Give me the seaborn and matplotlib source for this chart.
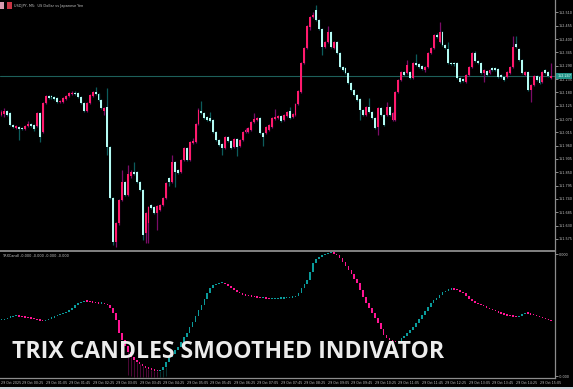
import matplotlib
matplotlib.use("Agg")
import matplotlib.pyplot as plt
import matplotlib.patches as mpatches
import matplotlib.transforms as mtransforms
from matplotlib.ticker import FormatStrFormatter, FixedFormatter, FixedLocator
import numpy as np
import pandas as pd
import seaborn as sns

# ---------------- data ----------------
symbol_title = "USDJPY, M5:  US Dollar vs Japanese Yen"
indicator_title = "TRXCandl -0.000 -0.000 -0.000 -0.000"
overlay_title = "TRIX CANDLES SMOOTHED INDIVATOR"

opens = [
    152.087, 152.091, 152.103, 152.095, 152.045, 152.033, 152.037, 152.033, 152.029, 152.041,
    152.049, 152.045, 152.041, 152.095, 152.016, 152.136, 152.165, 152.165, 152.161, 152.157,
    152.140, 152.140, 152.153, 152.165, 152.173, 152.177, 152.177, 152.161, 152.136, 152.103,
    152.136, 152.165, 152.181, 152.173, 152.148, 152.103, 152.120, 151.954, 151.744, 151.563,
    151.641, 151.736, 151.810, 151.756, 151.835, 151.851, 151.851, 151.810, 151.777, 151.600,
    151.641, 151.715, 151.707, 151.682, 151.695, 151.715, 151.744, 151.827, 151.810, 151.893,
    151.860, 151.851, 151.901, 151.950, 151.901, 151.971, 151.975, 152.049, 152.103, 152.095,
    152.078, 152.074, 152.066, 152.016, 151.983, 151.967, 151.950, 151.996, 151.979, 151.954,
    151.988, 151.959, 151.983, 152.016, 152.016, 152.025, 152.058, 152.066, 152.074, 152.012,
    152.012, 152.025, 152.037, 152.070, 152.074, 152.082, 152.066, 152.082, 152.103, 152.078,
    152.087, 152.132, 152.181, 152.301, 152.363, 152.450, 152.491, 152.520, 152.478, 152.441,
    152.367, 152.388, 152.429, 152.363, 152.388, 152.342, 152.285, 152.280, 152.260, 152.219,
    152.190, 152.169, 152.153, 152.107, 152.087, 152.120, 152.099, 152.074, 152.037, 152.115,
    152.087, 152.087, 152.120, 152.066, 152.066, 152.181, 152.231, 152.264, 152.260, 152.264,
    152.239, 152.301, 152.297, 152.289, 152.272, 152.285, 152.342, 152.363, 152.417, 152.388,
    152.429, 152.375, 152.359, 152.301, 152.301, 152.301, 152.239, 152.235, 152.223, 152.252,
    152.285, 152.342, 152.309, 152.301, 152.260, 152.268, 152.260, 152.280, 152.280, 152.276,
    152.252, 152.243, 152.243, 152.260, 152.285, 152.379, 152.359, 152.313, 152.252, 152.264,
    152.190, 152.210, 152.247, 152.243, 152.223, 152.272, 152.264, 152.239,
]
highs = [
    152.107, 152.115, 152.107, 152.099, 152.049, 152.045, 152.041, 152.037, 152.045, 152.062,
    152.054, 152.049, 152.099, 152.099, 152.140, 152.169, 152.169, 152.169, 152.165, 152.161,
    152.148, 152.161, 152.169, 152.181, 152.186, 152.186, 152.181, 152.165, 152.140, 152.140,
    152.173, 152.186, 152.202, 152.177, 152.153, 152.120, 152.198, 151.959, 151.748, 151.645,
    151.740, 151.860, 151.814, 151.880, 151.860, 151.893, 151.855, 151.814, 151.781, 151.686,
    151.711, 151.719, 151.711, 151.715, 151.719, 151.748, 151.810, 151.831, 151.921, 151.897,
    151.864, 151.905, 151.954, 151.954, 151.979, 151.992, 152.054, 152.115, 152.144, 152.099,
    152.082, 152.099, 152.070, 152.021, 151.988, 151.971, 152.000, 152.000, 151.983, 151.992,
    151.992, 151.988, 152.021, 152.033, 152.037, 152.062, 152.095, 152.078, 152.078, 152.016,
    152.041, 152.049, 152.078, 152.111, 152.087, 152.087, 152.091, 152.103, 152.120, 152.095,
    152.136, 152.190, 152.305, 152.367, 152.458, 152.495, 152.511, 152.540, 152.483, 152.446,
    152.392, 152.454, 152.433, 152.392, 152.392, 152.346, 152.289, 152.285, 152.264, 152.223,
    152.194, 152.173, 152.157, 152.111, 152.124, 152.157, 152.103, 152.078, 152.120, 152.120,
    152.091, 152.140, 152.124, 152.099, 152.186, 152.235, 152.268, 152.268, 152.313, 152.268,
    152.305, 152.338, 152.301, 152.293, 152.289, 152.346, 152.367, 152.421, 152.425, 152.470,
    152.433, 152.379, 152.388, 152.305, 152.305, 152.305, 152.243, 152.239, 152.256, 152.289,
    152.346, 152.351, 152.313, 152.305, 152.276, 152.272, 152.276, 152.285, 152.285, 152.280,
    152.256, 152.247, 152.268, 152.289, 152.412, 152.412, 152.363, 152.318, 152.268, 152.268,
    152.214, 152.252, 152.252, 152.247, 152.268, 152.276, 152.268, 152.301,
]
lows = [
    152.082, 152.078, 152.082, 152.041, 152.033, 152.029, 151.983, 152.025, 152.025, 152.037,
    152.037, 152.021, 152.037, 151.975, 152.012, 152.132, 152.153, 152.153, 152.148, 152.136,
    152.136, 152.136, 152.148, 152.161, 152.169, 152.169, 152.157, 152.132, 152.099, 152.099,
    152.132, 152.161, 152.169, 152.144, 152.111, 152.087, 151.921, 151.740, 151.550, 151.542,
    151.633, 151.732, 151.752, 151.752, 151.827, 151.839, 151.806, 151.773, 151.571, 151.558,
    151.558, 151.699, 151.678, 151.612, 151.690, 151.711, 151.740, 151.794, 151.806, 151.789,
    151.843, 151.847, 151.897, 151.897, 151.897, 151.967, 151.971, 152.045, 152.091, 152.070,
    152.062, 152.058, 152.012, 151.979, 151.959, 151.921, 151.946, 151.975, 151.946, 151.950,
    151.917, 151.954, 151.979, 152.012, 152.012, 152.021, 152.054, 152.062, 152.008, 151.959,
    152.008, 152.021, 152.033, 152.066, 152.070, 152.058, 152.062, 152.078, 152.070, 152.074,
    152.082, 152.128, 152.177, 152.297, 152.359, 152.437, 152.487, 152.474, 152.437, 152.334,
    152.363, 152.384, 152.363, 152.359, 152.338, 152.280, 152.268, 152.256, 152.214, 152.186,
    152.165, 152.144, 152.066, 152.082, 152.082, 152.095, 152.070, 152.029, 152.004, 152.082,
    152.041, 152.082, 152.082, 152.062, 152.062, 152.177, 152.227, 152.247, 152.256, 152.235,
    152.235, 152.289, 152.280, 152.272, 152.264, 152.280, 152.338, 152.359, 152.404, 152.384,
    152.371, 152.359, 152.297, 152.293, 152.289, 152.235, 152.219, 152.223, 152.219, 152.247,
    152.280, 152.305, 152.297, 152.256, 152.223, 152.247, 152.256, 152.268, 152.268, 152.239,
    152.239, 152.227, 152.239, 152.256, 152.280, 152.363, 152.309, 152.256, 152.247, 152.186,
    152.140, 152.206, 152.227, 152.214, 152.219, 152.256, 152.243, 152.235,
]
closes = [
    152.099, 152.103, 152.087, 152.045, 152.037, 152.041, 152.029, 152.029, 152.041, 152.049,
    152.041, 152.029, 152.095, 151.996, 152.136, 152.165, 152.157, 152.161, 152.153, 152.140,
    152.144, 152.157, 152.165, 152.177, 152.177, 152.173, 152.161, 152.136, 152.103, 152.136,
    152.169, 152.181, 152.173, 152.148, 152.115, 152.115, 151.954, 151.744, 151.563, 151.641,
    151.736, 151.810, 151.756, 151.843, 151.851, 151.843, 151.810, 151.777, 151.591, 151.682,
    151.707, 151.703, 151.682, 151.711, 151.715, 151.744, 151.806, 151.810, 151.893, 151.851,
    151.847, 151.901, 151.950, 151.901, 151.975, 151.979, 152.049, 152.107, 152.095, 152.074,
    152.066, 152.062, 152.016, 151.983, 151.963, 151.950, 151.996, 151.979, 151.950, 151.988,
    151.954, 151.983, 152.016, 152.025, 152.033, 152.058, 152.070, 152.074, 152.012, 151.996,
    152.037, 152.045, 152.074, 152.078, 152.082, 152.062, 152.087, 152.099, 152.074, 152.091,
    152.132, 152.186, 152.301, 152.363, 152.454, 152.491, 152.499, 152.478, 152.441, 152.367,
    152.388, 152.429, 152.367, 152.388, 152.342, 152.285, 152.272, 152.260, 152.219, 152.190,
    152.169, 152.148, 152.107, 152.087, 152.120, 152.099, 152.074, 152.033, 152.115, 152.087,
    152.045, 152.120, 152.087, 152.095, 152.181, 152.231, 152.264, 152.252, 152.293, 152.239,
    152.301, 152.293, 152.285, 152.276, 152.285, 152.342, 152.363, 152.417, 152.408, 152.429,
    152.375, 152.363, 152.301, 152.297, 152.297, 152.239, 152.223, 152.227, 152.252, 152.285,
    152.342, 152.309, 152.301, 152.260, 152.272, 152.252, 152.272, 152.272, 152.272, 152.243,
    152.243, 152.231, 152.264, 152.285, 152.367, 152.367, 152.313, 152.260, 152.264, 152.190,
    152.210, 152.247, 152.231, 152.219, 152.264, 152.260, 152.247, 152.247,
]

# TRIX candle values, in units of 1e-5
trix_e5 = [
    -5, -4, -2.5, -2, -1, -1, -1.5, -2, -2.5, -3,
    -3.5, -4, -5, -5.5, -6, -5, -3.5, -2.5, -1, 0,
    1, 2, 3.5, 5, 7.5, 10, 12, 13, 14, 13.5,
    13, 12.5, 12, 11.5, 11.5, 11, 10, 7, 2, -5,
    -18, -25, -31, -37, -42, -45, -47, -49, -51, -52.5,
    -53.5, -54.5, -55.5, -56, -55, -52, -47, -42, -39, -35,
    -32, -27, -22, -18, -12, -7, -1, 5, 10, 16,
    22, 27, 30, 31, 32, 32, 31, 29, 27, 25,
    23.5, 22, 20.5, 19.5, 19, 18.5, 18, 17.5, 17, 17,
    16.5, 16, 16, 16, 16.5, 16.5, 17, 17, 17.5, 18,
    19, 22, 27, 31, 35, 43, 52, 56, 58, 60,
    61, 62, 62, 61.5, 60, 57, 53, 49, 45, 41,
    36, 32, 25, 18, 12, 7, 2, -3, -8, -14,
    -20, -23, -25, -26, -27, -26, -23, -21, -18, -15,
    -12, -8, -4, 0, 4, 8, 12, 15, 17, 20,
    23, 24.5, 25.5, 26, 25.5, 25, 23.5, 22, 19, 16,
    14, 12.5, 11, 10, 9, 7.5, 6, 5, 4, 2.5,
    1.5, 0.5, -0.5, -1, -1.5, -2, -0.5, 1, 2, 1.5,
    0.5, 0, -1, -2, -3, -4, -5, -6,
]
# long lower shadows of the TRIX candles near the trough
trix_wick_first = 43
trix_wick_low_e5 = [-60, -61, -62, -62, -62, -62, -62, -62, -62, -62, -62, -62, -62, -61]

bid_price = 152.247
price_ticks = [152.510, 152.455, 152.400, 152.345, 152.290, 152.235, 152.180, 152.125,
               152.070, 152.015, 151.960, 151.905, 151.850, 151.795, 151.740, 151.685,
               151.630, 151.575]
indicator_ticks_e5 = [61, -61]
indicator_tick_labels = ["0.000", "-0.000"]
time_tick_bars = [0, 7, 15, 23, 31, 39, 47, 55, 63, 71, 79, 87, 95, 103, 111, 119,
                  127, 135, 143, 151, 159, 167, 175, 183]
time_tick_labels = ["29 Oct 2025", "29 Oct 00:25", "29 Oct 01:05", "29 Oct 01:45",
                    "29 Oct 02:25", "29 Oct 03:05", "29 Oct 03:45", "29 Oct 04:25",
                    "29 Oct 05:05", "29 Oct 05:45", "29 Oct 06:25", "29 Oct 07:05",
                    "29 Oct 07:45", "29 Oct 08:25", "29 Oct 09:05", "29 Oct 09:45",
                    "29 Oct 10:25", "29 Oct 11:05", "29 Oct 11:45", "29 Oct 12:25",
                    "29 Oct 13:05", "29 Oct 13:45", "29 Oct 14:25", "29 Oct 15:05"]

# ---------------- style ----------------
PINK = "#ff1a6c"
CYAN = "#b4fbf3"
PINK_WICK = "#7c0c68"
CYAN_WICK = "#0c5c5c"
IND_TEAL = "#0a9c9c"
IND_PINK = "#ff1493"
AXIS_GREY = "#8c8c8c"
TEXT_GREY = "#c4c4c4"

sns.set_theme(style="dark", rc={
    "axes.facecolor": "black", "figure.facecolor": "black",
    "axes.grid": False, "text.color": TEXT_GREY,
    "xtick.color": TEXT_GREY, "ytick.color": TEXT_GREY,
})
plt.rcParams["font.family"] = ["DejaVu Sans"]

W, H = 573, 389
fig = plt.figure(figsize=(W / 100, H / 100), dpi=100, facecolor="black")
ax = fig.add_axes([0, 1 - 251 / H, 555 / W, 251 / H])
axi = fig.add_axes([0, 1 - 378 / H, 555 / W, 126 / H])

df = pd.DataFrame({"open": opens, "high": highs, "low": lows, "close": closes})
df["bar"] = np.arange(len(df))
up = (df["close"] >= df["open"]).to_numpy()

# candles
ax.vlines(df["bar"], df["low"], df["high"],
          colors=np.where(up, PINK_WICK, CYAN_WICK), linewidth=0.9, zorder=2)
body_h = np.maximum((df["close"] - df["open"]).abs(), 0.003)
ax.bar(df["bar"], body_h, bottom=np.minimum(df["open"], df["close"]), width=0.66,
       color=np.where(up, PINK, CYAN), linewidth=0, zorder=3)

ax.axhline(bid_price, color="#1d5f5a", linewidth=0.8, zorder=1)

xlim = (-0.51, 188.27)
ax.set_xlim(*xlim)
ax.set_ylim(151.5254, 152.561)

# indicator
tr = np.array(trix_e5) * 1e-5
prev = np.r_[tr[0], tr[:-1]]
rising = tr >= prev
ind_col = np.where(rising, IND_TEAL, IND_PINK)
wick_bars = np.arange(trix_wick_first, trix_wick_first + len(trix_wick_low_e5))
wick_top = np.minimum(tr[wick_bars], prev[wick_bars])
axi.vlines(wick_bars, np.array(trix_wick_low_e5) * 1e-5, wick_top,
           colors=np.where(rising[wick_bars], "#0b5a5a", "#8a1060"), linewidth=0.5,
           alpha=0.8, zorder=2)
axi.bar(df["bar"], np.maximum(np.abs(tr - prev), 1.3e-5), bottom=np.minimum(tr, prev),
        width=0.55, color=ind_col, linewidth=0, zorder=3)
axi.set_xlim(*xlim)
axi.set_ylim(-63e-5, 63e-5)

# axes decoration
for a in (ax, axi):
    for s in ("left", "top"):
        a.spines[s].set_visible(False)
    a.spines["right"].set_color(AXIS_GREY)
    a.spines["right"].set_linewidth(0.9)
ax.spines["bottom"].set_color(AXIS_GREY)
ax.spines["bottom"].set_linewidth(1.3)
axi.spines["bottom"].set_color(AXIS_GREY)
axi.spines["bottom"].set_linewidth(0.9)

ax.set_xticks([])
ax.yaxis.tick_right()
ax.yaxis.set_major_locator(FixedLocator(price_ticks))
ax.yaxis.set_major_formatter(FormatStrFormatter("%.3f"))
ax.tick_params(axis="y", labelsize=2.4, length=1.8, width=0.5, pad=0.8,
               colors=TEXT_GREY, direction="out")

axi.yaxis.tick_right()
axi.yaxis.set_major_locator(FixedLocator(np.array(indicator_ticks_e5) * 1e-5))
axi.yaxis.set_major_formatter(FixedFormatter(indicator_tick_labels))
axi.tick_params(axis="y", labelsize=2.4, length=1.8, width=0.5, pad=0.8, colors=TEXT_GREY)
axi.xaxis.set_major_locator(FixedLocator(time_tick_bars))
axi.xaxis.set_major_formatter(FixedFormatter(time_tick_labels))
for lbl in axi.get_xticklabels():
    lbl.set_ha("left")
axi.tick_params(axis="x", labelsize=2.3, length=1.5, width=0.5, pad=1.0, colors=TEXT_GREY)

# current price box
trans = mtransforms.blended_transform_factory(ax.transAxes, ax.transData)
ax.text(1.004, bid_price, f"{bid_price:.3f}", transform=trans, fontsize=2.4,
        color="#e8fffb", ha="left", va="center", clip_on=False, zorder=5,
        bbox=dict(boxstyle="square,pad=0.35", fc="#239488", ec="none"))

# texts
fig.patches.append(mpatches.Rectangle((0 / W, 1 - 8.5 / H), 4 / W, 6 / H,
                                      transform=fig.transFigure, fc="#d89ab0", ec="none"))
fig.patches.append(mpatches.Rectangle((7 / W, 1 - 8.5 / H), 5 / W, 6.5 / H,
                                      transform=fig.transFigure, fc="#c83545", ec="none"))
fig.text(14 / W, 1 - 5.5 / H, symbol_title, fontsize=2.5, color=TEXT_GREY,
         ha="left", va="center")
fig.text(2 / W, 1 - 256 / H, indicator_title, fontsize=2.5, color=TEXT_GREY,
         ha="left", va="center")
fig.text(12 / W, 1 - 358 / H, overlay_title, fontfamily="Open Sans", fontweight="bold",
         fontsize=16.6, color="#ececec", ha="left", va="baseline")

# bottom border strip
fig.patches.append(mpatches.Rectangle((0, 0), 1, 1.6 / H, transform=fig.transFigure,
                                      fc="#c9d0d8", ec="none"))

fig.savefig("out.png", dpi=100, facecolor="black")
